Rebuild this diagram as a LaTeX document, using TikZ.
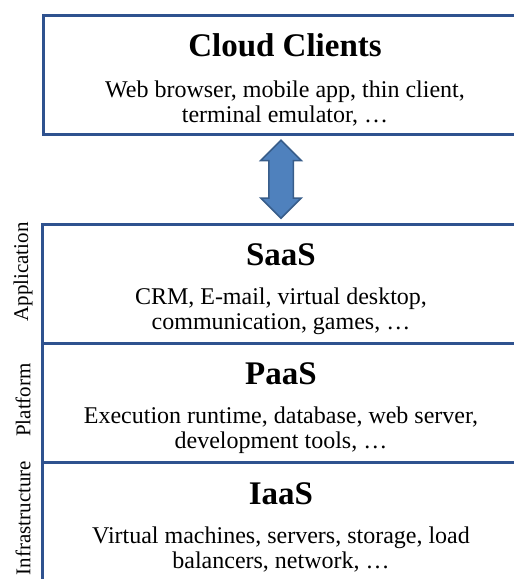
\documentclass[tikz,border=0pt]{standalone}
\usepackage{fontspec}
\setmainfont{Liberation Serif}
\usetikzlibrary{positioning,calc,shapes.arrows}
\definecolor{LayerBlue}{RGB}{47,82,143}
\definecolor{ArrowFill}{RGB}{79,129,189}
\definecolor{ArrowEdge}{RGB}{56,93,138}
\newcommand{\layerhead}{\fontsize{16.5}{19}\selectfont\bfseries\rule{0pt}{16.5pt}}
\tikzset{
  layer/.style={draw=LayerBlue, line width=1.5pt, fill=white,
    minimum width=239pt, minimum height=59.5pt, inner sep=0pt, outer sep=0pt,
    align=center, font=\fontsize{12}{12.5}\selectfont},
  sidelabel/.style={rotate=90, inner sep=0pt,
    font=\fontsize{10.5}{12}\selectfont},
  linkarrow/.style={double arrow, shape border rotate=90, draw=ArrowEdge,
    line width=0.75pt, fill=ArrowFill, minimum height=39pt,
    inner xsep=5.75pt, inner ysep=0pt, double arrow head extend=4pt}
}

\begin{document}
\begin{tikzpicture}[x=0.5pt, y=-0.5pt]
      \useasboundingbox (0,0) rectangle (514,579);
      \clip (0,0) rectangle (514,579);
      \node[layer, minimum width=242pt] (clients) at (285,74.5)
        {{\layerhead Cloud Clients}\\[8pt]Web browser, mobile app, thin client,\\terminal emulator, …};
      \node[layer] (saas) at (281,284)
        {{\layerhead SaaS}\\[7pt]CRM, E-mail, virtual desktop,\\communication, games, …};
      \node[layer, below=0pt of saas] (paas)
        {{\layerhead PaaS}\\[7pt]Execution runtime, database, web server,\\development tools, …};
      \node[layer, below=0pt of paas] (iaas)
        {{\layerhead IaaS}\\[7pt]Virtual machines, servers, storage, load\\balancers, network, …};
      \node[sidelabel] (application) at (23,272) {Application};
      \node[sidelabel] (platform) at (23,400) {Platform};
      \node[sidelabel] (infrastructure) at (23,518) {Infrastructure};
      \node[linkarrow] (link) at ($(clients.south -| saas)!0.5!(saas.north)$) {};
    \end{tikzpicture}
\end{document}
